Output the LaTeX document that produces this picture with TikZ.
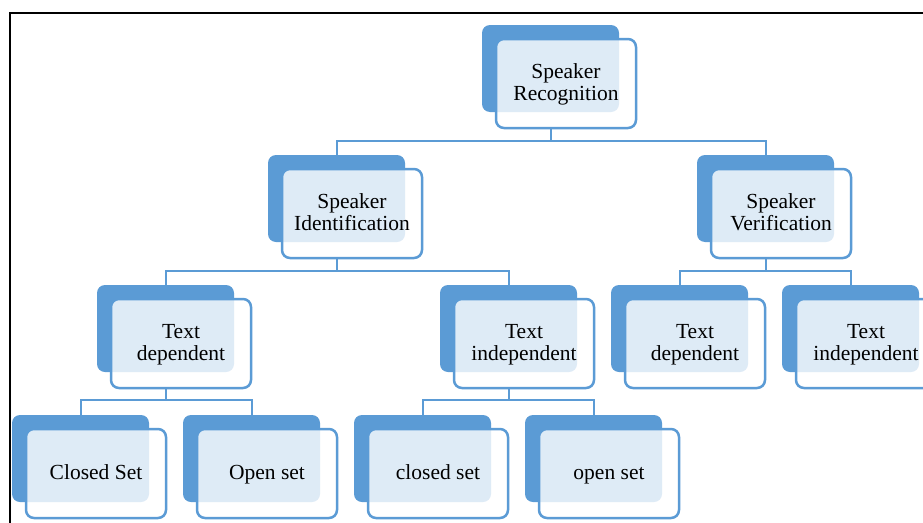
\documentclass[tikz,border=0pt]{standalone}
\usepackage{fontspec}
\setmainfont{Liberation Serif}
\definecolor{sblue}{RGB}{91,155,213}
\tikzset{
  backbox/.style={fill=sblue, draw=none, rounded corners=8pt, minimum width=137pt, minimum height=87pt, inner sep=0pt, outer sep=0pt, anchor=north west},
  frontbox/.style={fill=white, fill opacity=0.8, draw=sblue, draw opacity=1, line width=2.5pt, rounded corners=8pt, minimum width=140pt, minimum height=89pt, inner sep=0pt, outer sep=0pt, anchor=north west},
  lbl/.style={align=center, inner sep=0pt, font=\fontsize{21.5}{22}\selectfont, execute at begin node=\strut, execute at end node=\strut},
  conn/.style={draw=sblue, line width=2pt},
  frameline/.style={draw=black, line width=2.2pt}
}
\newcommand\hnode[4]{%
  \node[backbox] (#1b) at (#2,#3) {};
  \node[frontbox] (#1) at (#2+14,#3+14) {};
  \node[lbl] (#1t) at ([yshift=-2pt]#1.center) {#4};
}
\begin{document}
\begin{tikzpicture}[x=1pt,y=-1pt]
\path[use as bounding box] (0,0) rectangle (923,522);
\clip (0,0) rectangle (923,522);
\fill[white] (0,0) rectangle (923,522);
\draw[frameline] (10,523) -- (10,13) -- (924,13);
\hnode{sr}{482}{25}{Speaker\\Recognition}
\hnode{si}{268}{155}{Speaker\\Identification}
\hnode{sv}{697}{155}{Speaker\\Verification}
\hnode{tda}{97}{285}{Text\\dependent}
\hnode{tia}{440}{285}{Text\\independent}
\hnode{tdb}{611}{285}{Text\\dependent}
\hnode{tib}{782}{285}{Text\\independent}
\hnode{csa}{12}{415}{Closed Set}
\hnode{osa}{183}{415}{Open set}
\hnode{csb}{354}{415}{closed set}
\hnode{osb}{525}{415}{open set}
% connectors
\draw[conn] (srb.center |- sr.south) -- ++(0,13) -| (sib.north);
\draw[conn] (srb.center |- sr.south) -- ++(0,13) -| (svb.north);
\draw[conn] (sib.center |- si.south) -- ++(0,13) -| (tdab.north);
\draw[conn] (sib.center |- si.south) -- ++(0,13) -| (tiab.north);
\draw[conn] (svb.center |- sv.south) -- ++(0,13) -| (tdbb.north);
\draw[conn] (svb.center |- sv.south) -- ++(0,13) -| (tibb.north);
\draw[conn] (tdab.center |- tda.south) -- ++(0,12) -| (csab.north);
\draw[conn] (tdab.center |- tda.south) -- ++(0,12) -| (osab.north);
\draw[conn] (tiab.center |- tia.south) -- ++(0,12) -| (csbb.north);
\draw[conn] (tiab.center |- tia.south) -- ++(0,12) -| (osbb.north);
\end{tikzpicture}
\end{document}
